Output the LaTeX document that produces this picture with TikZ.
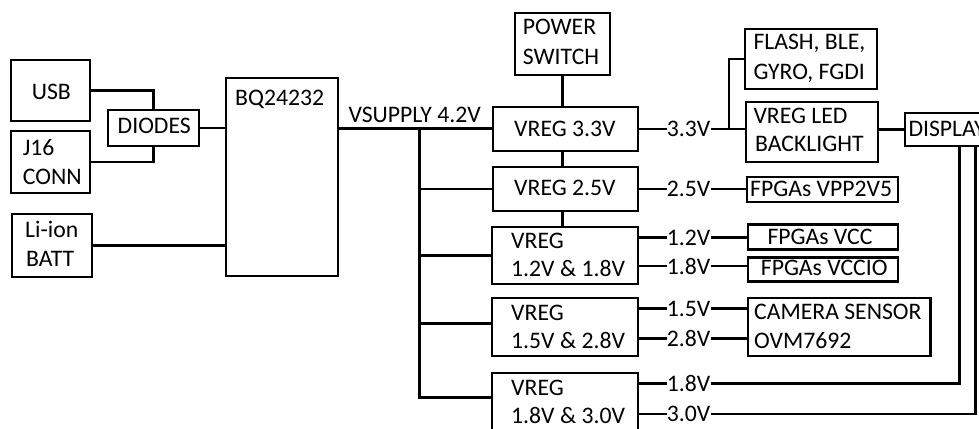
\documentclass[tikz,border=0pt]{standalone}
\usepackage{fontspec}
\setmainfont{Carlito}
\usetikzlibrary{fit,calc}
\begin{document}
\begin{tikzpicture}[x=1pt,y=-1pt,
  box/.style={draw, line width=2.7pt, inner sep=0pt, fit={#1}},
  txt/.style={anchor=base west, inner sep=0pt, font=\fontsize{23.7}{28}\selectfont},
  lbl/.style={anchor=base west, inner sep=0pt, font=\fontsize{23.7}{28}\selectfont},
  wire/.style={line width=2.7pt}]
\useasboundingbox (0,0) rectangle (979,428);
\clip (0,0) rectangle (979,428);
% boxes
\node[box={(11,60) (90,121)}] (usb) {};
\node[box={(11,131) (90,193)}] (j16) {};
\node[box={(12,214) (92,277)}] (batt) {};
\node[box={(108,110) (199,146)}] (diodes) {};
\node[box={(226,78) (338,276)}] (bq) {};
\node[box={(515,13) (610,75)}] (psw) {};
\node[box={(493,107) (638,151)}] (vreg33) {};
\node[box={(493,167) (638,211)}] (vreg25) {};
\node[box={(492,227) (638,284)}] (vreg12) {};
\node[box={(492,298) (638,356)}] (vreg15) {};
\node[box={(492,373) (638,450)}] (vreg18) {};
\node[box={(745,29) (877,89)}] (flash) {};
\node[box={(746,102) (878,162)}] (led) {};
\node[box={(905,113) (1000,146)}] (disp) {};
\node[box={(747,177) (898,202)}] (fvpp) {};
\node[box={(748,224.5) (898,249.5)}] (fvcc) {};
\node[box={(748,257.5) (898,281.5)}] (fvccio) {};
\node[box={(748,298) (930.5,356)}] (cam) {};
% box texts
\node[txt] (tusb) at (31.7,99) {USB};
\node[txt] (tdiodes) at (117.5,133.3) {DIODES};
\node[txt] (tj16a) at (22.7,155) {J16};
\node[txt] (tj16b) at (22.7,184) {CONN};
\node[txt] (tbatta) at (25,237.3) {Li-ion};
\node[txt] (tbattb) at (26,266.7) {BATT};
\node[txt] (tbq) at (235,105) {BQ24232};
\node[txt] (tvs) at (348.3,122.3) {VSUPPLY 4.2V};
\node[txt] (tpswa) at (522.7,35) {POWER};
\node[txt] (tpswb) at (522.7,64) {SWITCH};
\node[txt] (tv33) at (514,136.7) {VREG 3.3V};
\node[txt] (tv25) at (514,195) {VREG 2.5V};
\node[txt] (tv12a) at (511,248.3) {VREG};
\node[txt] (tv12b) at (511,276.7) {1.2V \& 1.8V};
\node[txt] (tv15a) at (511,320) {VREG};
\node[txt] (tv15b) at (511,348.3) {1.5V \& 2.8V};
\node[txt] (tv18a) at (511,395) {VREG};
\node[txt] (tv18b) at (511,423.3) {1.8V \& 3.0V};
\node[txt] (tflasha) at (753.3,50) {FLASH, BLE,};
\node[txt] (tflashb) at (753.3,79.3) {GYRO, FGDI};
\node[txt] (tleda) at (753.3,123.3) {VREG LED};
\node[txt] (tledb) at (755,151.7) {BACKLIGHT};
\node[txt] (tdisp) at (908.3,136.7) {DISPLAY};
\node[txt] (tfvpp) at (750,196.7) {FPGAs VPP2V5};
\node[txt] (tfvcc) at (767.3,244) {FPGAs VCC};
\node[txt] (tfvccio) at (760.7,275.7) {FPGAs VCCIO};
\node[txt] (tcama) at (754,319.3) {CAMERA SENSOR};
\node[txt] (tcamb) at (754,348.3) {OVM7692};
% voltage labels
\node[lbl] (l33) at (666.7,136.7) {3.3V};
\node[lbl] (l25) at (666.7,196.7) {2.5V};
\node[lbl] (l12) at (666.7,245) {1.2V};
\node[lbl] (l18a) at (666.7,274) {1.8V};
\node[lbl] (l15) at (666.7,316) {1.5V};
\node[lbl] (l28) at (666.7,346.7) {2.8V};
\node[lbl] (l18b) at (666.7,391.7) {1.8V};
\node[lbl] (l30) at (666.7,421.7) {3.0V};
% junction coordinates
\coordinate (b0) at (419.3,128.5);
\coordinate (j33) at (729,0);
% connectors left
\draw[wire] (usb.east) -| (diodes.north);
\draw[wire] (j16.east) -| (diodes.south);
\draw[wire] (diodes.east) -- (diodes.east -| bq.west);
\draw[wire] (batt.east) -- (batt.east -| bq.west);
\draw[wire] (bq.east |- b0) -- (b0 -| vreg33.west);
% bus
\draw[wire] (b0) |- ($(vreg18.north west)+(0,25.7)$);
\draw[wire] (b0 |- vreg25.west) -- (vreg25.west);
\draw[wire] (b0 |- vreg12.west) -- (vreg12.west);
\draw[wire] (b0 |- 0,323.3) -- (vreg15.west |- 0,323.3);
% vertical chain
\draw[wire] (psw.south) -- (psw.south |- vreg33.north);
\draw[wire] (psw.south |- vreg33.south) -- (psw.south |- vreg25.north);
\draw[wire] (psw.south |- vreg25.south) -- (psw.south |- vreg12.north);
% outputs
\draw[wire] (vreg33.east |- l33.west) -- (l33.west);
\draw[wire] (l33.east) -- (l33.east -| led.west);
\draw[wire] (j33 |- l33.east) |- (flash.west);
\draw[wire] (disp.west -| led.east) -- (disp.west);
\draw[wire] (vreg25.east |- l25.west) -- (l25.west);
\draw[wire] (l25.east) -- (l25.east -| fvpp.west);
\draw[wire] (vreg12.east |- l12.west) -- (l12.west);
\draw[wire] (l12.east) -- (l12.east -| fvcc.west);
\draw[wire] (vreg12.east |- l18a.west) -- (l18a.west);
\draw[wire] (l18a.east) -- (l18a.east -| fvccio.west);
\draw[wire] (vreg15.east |- l15.west) -- (l15.west);
\draw[wire] (l15.east) -- (l15.east -| cam.west);
\draw[wire] (vreg15.east |- l28.west) -- (l28.west);
\draw[wire] (l28.east) -- (l28.east -| cam.west);
\draw[wire] (vreg18.east |- l18b.west) -- (l18b.west);
\draw[wire] (l18b.east) -| ($(disp.south west)+(56,0)$);
\draw[wire] (vreg18.east |- l30.west) -- (l30.west);
\draw[wire] (l30.east) -| ($(disp.south west)+(71.5,0)$);
\end{tikzpicture}
\end{document}
